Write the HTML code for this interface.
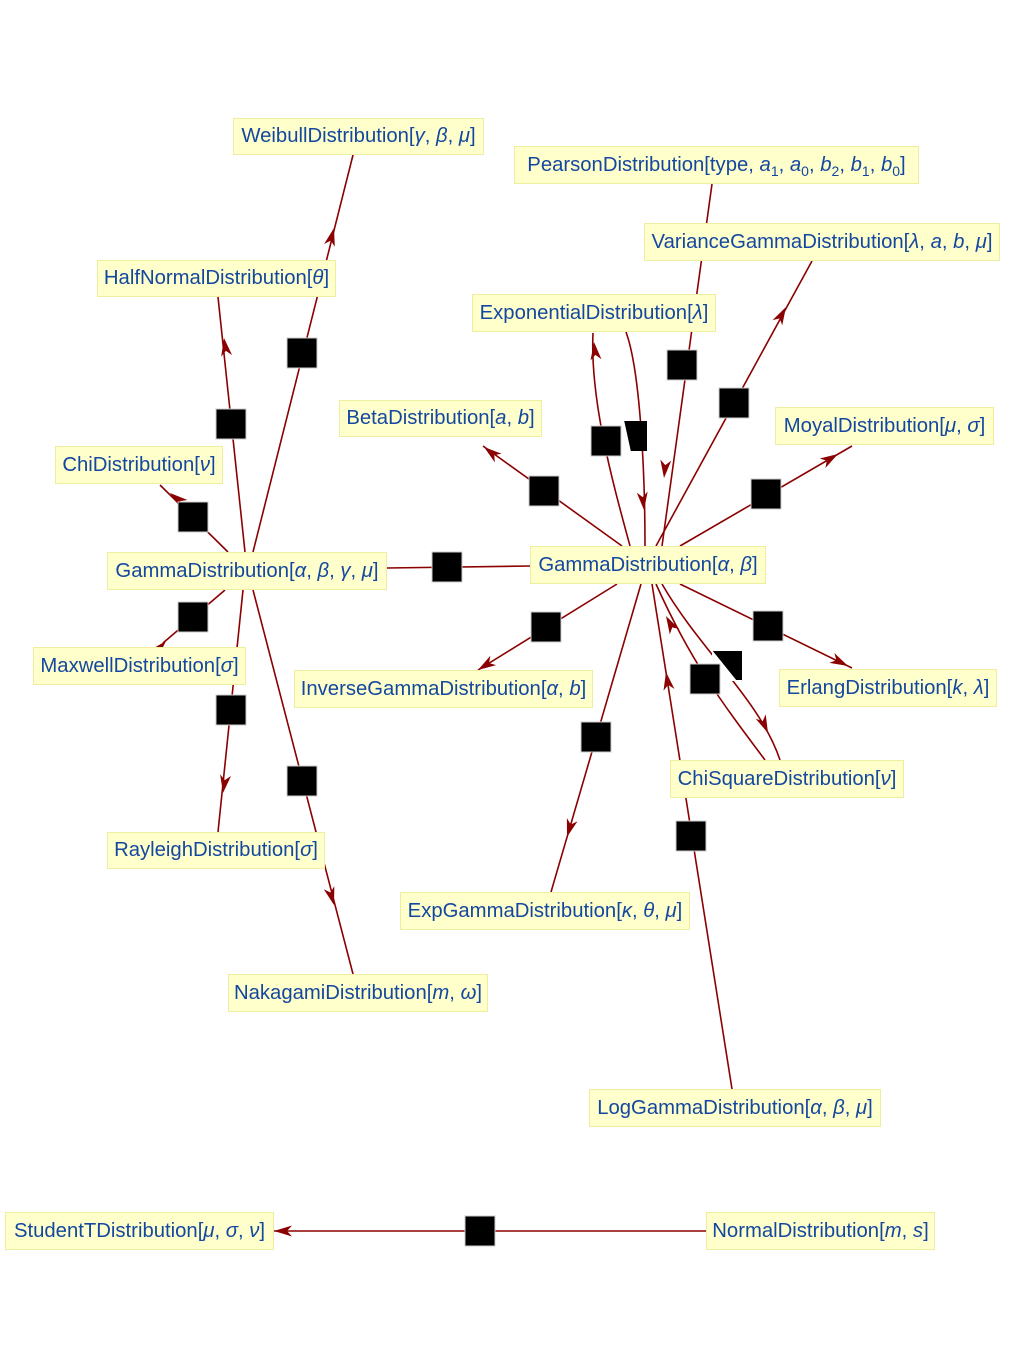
<!DOCTYPE html>
<html><head><meta charset="utf-8"><style>
body{margin:0;background:#fff;width:1016px;height:1372px;position:relative;overflow:hidden;font-family:"Liberation Sans",sans-serif}
.n{position:absolute;background:#ffffcc;border:1px solid #eeeea0;box-sizing:border-box;color:#1448a0;font-size:20.3px;display:flex;align-items:center;justify-content:center;white-space:pre}
.n i{font-style:italic}
.n sub{font-size:14px;vertical-align:-5px;line-height:0}
svg{position:absolute;left:0;top:0}
</style></head><body>
<svg id="s" width="1016" height="1372" viewBox="0 0 1016 1372"></svg>
<div class="n" style="left:233px;top:118px;width:251px;height:37px"><span>WeibullDistribution[<i>γ</i>, <i>β</i>, <i>μ</i>]</span></div>
<div class="n" style="left:514px;top:146px;width:405px;height:38px"><span>PearsonDistribution[type, <i>a</i><sub>1</sub>, <i>a</i><sub>0</sub>, <i>b</i><sub>2</sub>, <i>b</i><sub>1</sub>, <i>b</i><sub>0</sub>]</span></div>
<div class="n" style="left:644px;top:223px;width:356px;height:38px"><span>VarianceGammaDistribution[<i>λ</i>, <i>a</i>, <i>b</i>, <i>μ</i>]</span></div>
<div class="n" style="left:97px;top:260px;width:239px;height:37px"><span>HalfNormalDistribution[<i>θ</i>]</span></div>
<div class="n" style="left:472px;top:294px;width:244px;height:38px"><span>ExponentialDistribution[<i>λ</i>]</span></div>
<div class="n" style="left:339px;top:400px;width:203px;height:37px"><span>BetaDistribution[<i>a</i>, <i>b</i>]</span></div>
<div class="n" style="left:775px;top:407px;width:219px;height:38px"><span>MoyalDistribution[<i>μ</i>, <i>σ</i>]</span></div>
<div class="n" style="left:55px;top:446px;width:168px;height:38px"><span>ChiDistribution[<i>ν</i>]</span></div>
<div class="n" style="left:107px;top:552px;width:280px;height:38px"><span>GammaDistribution[<i>α</i>, <i>β</i>, <i>γ</i>, <i>μ</i>]</span></div>
<div class="n" style="left:530px;top:546px;width:236px;height:38px"><span>GammaDistribution[<i>α</i>, <i>β</i>]</span></div>
<div class="n" style="left:33px;top:647px;width:213px;height:38px"><span>MaxwellDistribution[<i>σ</i>]</span></div>
<div class="n" style="left:294px;top:670px;width:299px;height:38px"><span>InverseGammaDistribution[<i>α</i>, <i>b</i>]</span></div>
<div class="n" style="left:779px;top:669px;width:218px;height:38px"><span>ErlangDistribution[<i>k</i>, <i>λ</i>]</span></div>
<div class="n" style="left:670px;top:760px;width:234px;height:38px"><span>ChiSquareDistribution[<i>ν</i>]</span></div>
<div class="n" style="left:107px;top:832px;width:218px;height:37px"><span>RayleighDistribution[<i>σ</i>]</span></div>
<div class="n" style="left:400px;top:892px;width:290px;height:38px"><span>ExpGammaDistribution[<i>κ</i>, <i>θ</i>, <i>μ</i>]</span></div>
<div class="n" style="left:228px;top:974px;width:260px;height:38px"><span>NakagamiDistribution[<i>m</i>, <i>ω</i>]</span></div>
<div class="n" style="left:589px;top:1089px;width:292px;height:38px"><span>LogGammaDistribution[<i>α</i>, <i>β</i>, <i>μ</i>]</span></div>
<div class="n" style="left:5px;top:1212px;width:269px;height:38px"><span>StudentTDistribution[<i>μ</i>, <i>σ</i>, <i>ν</i>]</span></div>
<div class="n" style="left:706px;top:1212px;width:229px;height:38px"><span>NormalDistribution[<i>m</i>, <i>s</i>]</span></div>
<script>
var s=document.getElementById('s'),C='#8b0000',h='';
function L(p){h+='<path d="'+p+'" fill="none" stroke="'+C+'" stroke-width="1.6"/>';}
function A(x,y,tx,ty){var dx=tx-x,dy=ty-y,l=Math.hypot(dx,dy);dx/=l;dy/=l;var px=-dy,py=dx;
var bx=x-dx*18,by=y-dy*18,nx=x-dx*13,ny=y-dy*13;
h+='<path d="M'+x+' '+y+'L'+(bx+px*5.5)+' '+(by+py*5.5)+'L'+nx+' '+ny+'L'+(bx-px*5.5)+' '+(by-py*5.5)+'Z" fill="'+C+'"/>';}
function Q(x,y){h+='<rect x="'+(x-15)+'" y="'+(y-15)+'" width="30" height="30" fill="#000" stroke="#ccc" stroke-width="1"/>';}
L('M253 552L353 155');A(334,228,353,155);
L('M245 552L218 297');A(224,338,218,297);
L('M228 552L160 485');A(170,493,160,485);
L('M530 566L387 568');
L('M225 590L163 643');A(166,641,180,626);
L('M243 590L218 832');A(223,793,222,800);
L('M253 590L353 974');A(334,905,336,912);
Q(302,353);Q(231,424);Q(193,517);Q(447,567);Q(193,617);Q(231,710);Q(302,781);
L('M622 546L483 446');A(484,447,475,440);
L('M630 546C612 480 590 400 593 333');A(594,342,593,333);
L('M626 332C640 370 645 470 645 546');A(644,510,645,520);
L('M712 184L662 546');A(664,478,663,488);
L('M656 546L812 261');A(786,307,792,296);
L('M680 546L852 446');A(838,454,848,448);
L('M680 584L852 668');A(848,666,856,670);
L('M617 584L478 670');A(478,670,470,675);
L('M641 584L551 892');A(567,837,564,847);
L('M765 760C720 700 690 660 656 584');A(666,616,660,605);
L('M662 584C700 650 760 700 780 760');A(768,733,772,742);
L('M732 1089L652 584');A(666,672,664,660);
L('M706 1231L274 1231');A(274,1231,260,1231);
h+='<rect x="619" y="421" width="28" height="30" fill="#000"/><path d="M618 420L624 420L631 452L618 452Z" fill="#fff"/>';
h+='<rect x="713" y="651" width="29" height="29" fill="#000"/><path d="M712 650L737 681L712 681Z" fill="#fff"/>';
Q(544,491);Q(606,441);Q(682,365);Q(734,403);Q(766,494);Q(768,626);Q(546,627);Q(596,737);Q(705,679);Q(691,836);Q(480,1231);
s.innerHTML=h;
</script>
</body></html>
